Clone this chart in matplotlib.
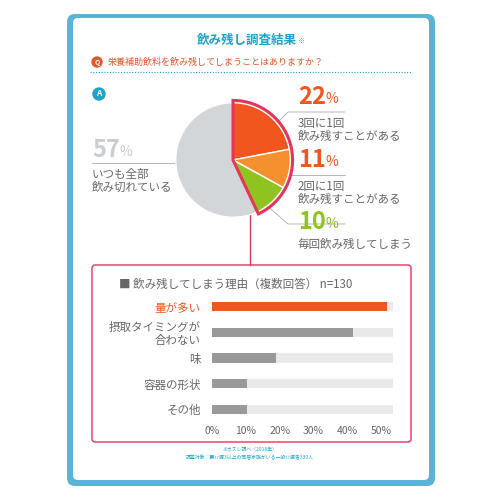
import matplotlib; matplotlib.use("Agg")
import matplotlib.pyplot as plt
from matplotlib.patches import FancyBboxPatch, Wedge, Circle

plt.rcParams['font.family'] = ['Noto Sans CJK JP', 'DejaVu Sans']

pie_labels = ["3回に1回\n飲み残すことがある", "2回に1回\n飲み残すことがある", "毎回飲み残してしまう", "いつも全部\n飲み切れている"]
pie_vals = [22, 11, 10, 57]
pie_colors = ["#f0561d", "#f5902f", "#8fc31f", "#d3d6d9"]

reasons = ["量が多い", "摂取タイミングが\n合わない", "味", "容器の形状", "その他"]
reason_vals = [51.5, 41.5, 19, 10.5, 10.5]
xticks = [0, 10, 20, 30, 40, 50]

RED = "#e8335a"; BLUE = "#5bb4d8"; CYAN = "#1fa3c9"; GRAY = "#666666"

fig = plt.figure(figsize=(5, 5), dpi=100)
ov = fig.add_axes([0, 0, 1, 1]); ov.set_xlim(0, 500); ov.set_ylim(500, 0); ov.axis("off")
ov.add_patch(FancyBboxPatch((67, 14), 368, 472, boxstyle="round,pad=0,rounding_size=8", fc=BLUE, ec="none"))
ov.add_patch(FancyBboxPatch((73, 18), 356, 462, boxstyle="round,pad=0,rounding_size=5", fc="white", ec="none"))
ov.text(247, 40, "飲み残し調査結果", color=CYAN, fontsize=9, fontweight="bold", ha="center", va="center")
ov.text(297, 41, "※", color=CYAN, fontsize=5, ha="left", va="center")
ov.add_patch(Circle((97, 62), 5, color="#e8552a"))
ov.text(97, 62, "Q", color="white", fontsize=5, fontweight="bold", ha="center", va="center")
ov.text(108, 62, "栄養補助飲料を飲み残してしまうことはありますか？", color="#e8552a", fontsize=6.5, ha="left", va="center")
ov.plot([90, 412], [72, 72], color=CYAN, lw=0.8, ls=(0, (1, 1.5)))
ov.add_patch(Circle((99, 94), 6, color=CYAN))
ov.text(99, 94, "A", color="white", fontsize=6, fontweight="bold", ha="center", va="center")

# pie
pa = fig.add_axes([174/500, 1-219/500, 118/500, 118/500])
pa.pie(pie_vals, colors=pie_colors, startangle=90, counterclock=False,
       wedgeprops=dict(edgecolor="white", linewidth=1))
pa.set_xlim(-1.03, 1.03); pa.set_ylim(-1.03, 1.03); pa.axis("off")
pa.add_patch(Wedge((0, 0), 1.04, 90 - sum(pie_vals[:3]) * 3.6, 90, fc="none", ec=RED, lw=2.2, clip_on=False))

# leader lines
lc = "#aaaaaa"
ov.plot([270, 288, 345], [130, 112, 112], color=lc, lw=0.6)
ov.plot([290, 345], [175, 175], color=lc, lw=0.6)
ov.plot([264, 288, 345], [203, 224, 224], color=lc, lw=0.6)
ov.plot([92, 200], [163, 163], color=lc, lw=0.6)
for x, y, i in [(298, 97, 0), (298, 160, 1), (298, 222, 2)]:
    c = "#8fc31f" if i == 2 else "#f0561d"
    ov.text(x, y, f"{pie_vals[i]}", color=c, fontsize=17, fontweight="bold", ha="left", va="center")
    ov.text(x + 27, y + 2, "%", color=c, fontsize=10, ha="left", va="center")
    ov.text(x, y + 33 if i < 2 else y + 22, pie_labels[i], color=GRAY, fontsize=8.3, ha="left", va="center", linespacing=1.05)
ov.text(92, 150, "57", color="#c9cdd1", fontsize=17, fontweight="bold", ha="left", va="center")
ov.text(120, 152, "%", color="#c9cdd1", fontsize=10, ha="left", va="center")
ov.text(92, 181, pie_labels[3], color=GRAY, fontsize=8.3, ha="left", va="center", linespacing=1.05)

# connector
ov.plot([250, 250], [197, 265], color=RED, lw=1)
ov.add_patch(Circle((250, 197), 2.5, color=RED))

# bar box
ov.add_patch(FancyBboxPatch((92, 265), 319, 177, boxstyle="round,pad=0,rounding_size=3", fc="white", ec=RED, lw=1))
ov.text(119, 284, "■ 飲み残してしまう理由（複数回答） n=130", color=GRAY, fontsize=8.3, ha="left", va="center")

ba = fig.add_axes([205/500, 1-422/500, 190/500, 128/500])
ys = list(range(len(reasons)))
ba.barh(ys, [53.5] * len(reasons), height=0.36, color="#e8e9ea")
ba.barh(ys, reason_vals, height=0.36, color=["#f0561d"] + ["#999999"] * 4)
ba.set_ylim(4.5, -0.5); ba.set_xlim(-2, 54)
ba.set_yticks(ys); ba.set_yticklabels(reasons, fontsize=8.3, linespacing=1.05)
for t, lab in zip(ba.get_yticklabels(), reasons):
    t.set_color("#f0561d" if lab == "量が多い" else GRAY)
ba.set_xticks(xticks); ba.set_xticklabels([f"{v}%" for v in xticks], fontsize=7.5, color=GRAY)
ba.tick_params(length=0, pad=3)
for s in ba.spines.values(): s.set_visible(False)

ov.text(250, 450, "※ネスレ調べ（2018年）", color=CYAN, fontsize=3.5, ha="center", va="center")
ov.text(250, 458, "調査対象：要介護3以上の同居家族がいる一般介護者330人", color=CYAN, fontsize=3.5, ha="center", va="center")

fig.savefig("out.png", dpi=100)
